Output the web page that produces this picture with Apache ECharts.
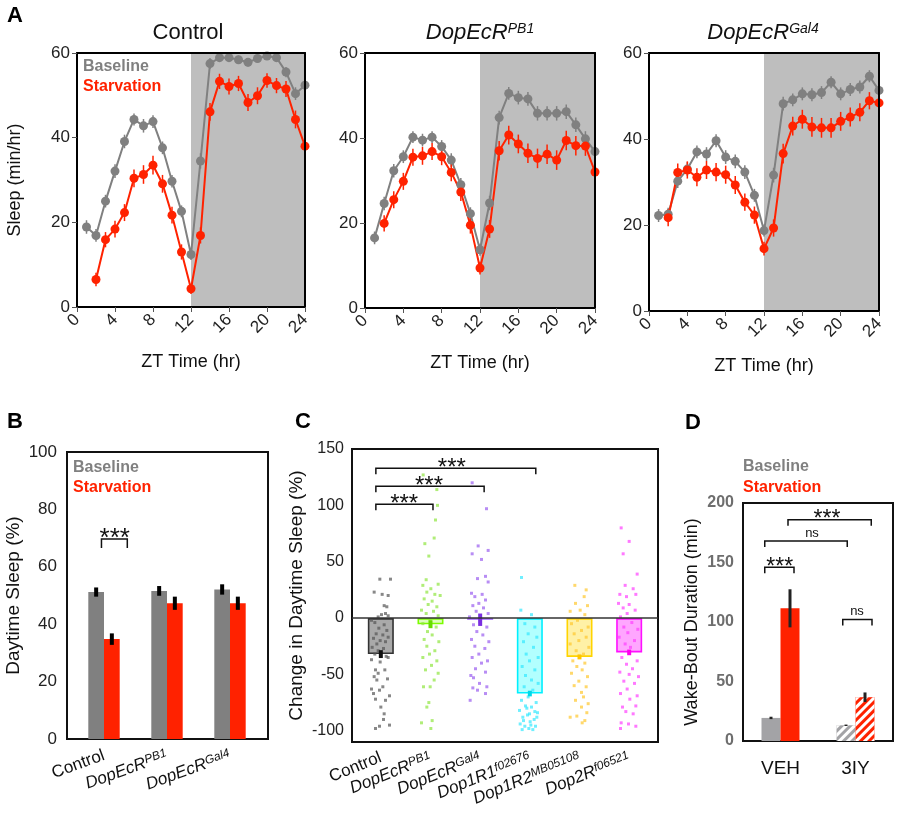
<!DOCTYPE html>
<html><head><meta charset="utf-8">
<script src="https://cdn.jsdelivr.net/npm/echarts@6/dist/echarts.min.js"></script>
<style>html,body{margin:0;padding:0;background:#fff}#c{width:900px;height:821px}</style>
</head><body><div id="c"></div>
<script>
// ---------------- DATA ----------------
const hours = [1,2,3,4,5,6,7,8,9,10,11,12,13,14,15,16,17,18,19,20,21,22,23,24];
const darkPhase = [12, 24];
const ctrlBase  = [18.9,16.9,25.0,32.1,39.1,44.3,42.8,43.8,37.6,29.7,22.6,12.4,34.5,57.5,58.9,58.9,58.4,57.8,58.7,59.3,58.9,55.5,50.4,52.4];
const ctrlStarv = [null,6.5,15.9,18.4,22.3,30.4,31.3,33.5,29.1,21.7,13.0,4.3,16.9,46.1,53.3,52.1,52.8,48.3,49.9,53.5,52.3,51.5,44.3,38.0];
const pb1Base   = [16.5,24.6,32.3,35.6,40.2,39.5,40.2,38.0,34.8,29.0,22.2,13.7,24.7,44.8,50.5,49.5,49.2,45.8,45.8,45.8,46.2,43.1,39.8,36.8];
const pb1Starv  = [null,19.9,25.5,29.8,35.5,35.8,36.8,35.6,31.9,27.3,19.5,9.4,18.6,37.0,40.7,38.6,36.4,35.2,36.2,34.8,39.4,38.2,38.1,32.0];
const gal4Base  = [22.2,22.5,30.2,33.0,37.0,36.5,39.6,35.8,34.8,32.3,26.9,18.7,31.6,48.2,49.1,50.5,50.3,50.8,53.2,50.5,51.5,52.1,54.6,51.3];
const gal4Starv = [null,21.7,32.2,32.8,31.1,32.8,32.3,31.7,29.3,25.3,22.3,14.5,19.3,36.6,43.0,44.6,42.8,42.6,42.6,44.1,45.1,46.2,48.9,48.4];
const ctrlBaseErr  = [1.6,1.5,1.5,1.6,1.6,1.4,1.6,1.5,1.5,1.5,1.4,1.3,1.8,1.3,1.0,1.0,1.0,1.0,1.0,0.9,1.0,1.2,1.5,1.6];
const ctrlStarvErr = [0,1.6,1.8,2.0,2.0,2.1,2.2,2.2,2.1,2.0,1.8,1.2,1.9,2.1,1.8,1.9,1.8,2.0,2.0,1.7,1.8,1.9,2.1,2.3];
const pb1BaseErr   = [1.5,1.6,1.6,1.5,1.4,1.5,1.4,1.5,1.6,1.6,1.5,1.4,1.7,1.6,1.5,1.6,1.6,1.7,1.7,1.7,1.7,1.7,1.8,1.8];
const pb1StarvErr  = [0,1.9,2.0,2.0,2.0,2.1,2.0,2.0,2.1,2.1,2.0,1.5,2.1,2.3,2.2,2.2,2.3,2.3,2.3,2.3,2.3,2.3,2.3,2.4];
const gal4BaseErr  = [1.5,1.5,1.6,1.6,1.5,1.6,1.5,1.6,1.6,1.6,1.5,1.4,1.7,1.6,1.5,1.5,1.5,1.5,1.4,1.5,1.5,1.5,1.4,1.5];
const gal4StarvErr = [0,2.0,2.1,2.0,2.1,2.1,2.1,2.1,2.1,2.0,2.0,1.6,2.0,2.3,2.2,2.2,2.3,2.3,2.3,2.2,2.2,2.1,2.0,2.0];
const aTitles = ['Control', '{i|DopEcR}{s|PB1}', '{i|DopEcR}{s|Gal4}'];

// Panel B
const bCats = ['Control', '{i|DopEcR}{s|PB1}', '{i|DopEcR}{s|Gal4}'];
const bBase = [51.2, 51.6, 52.1];
const bBaseErr = [1.6, 1.7, 1.8];
const bStarv = [34.8, 47.3, 47.3];
const bStarvErr = [2.0, 2.3, 2.3];
const bBrackets = [[-0.04, 0.37, 69.7, 0.17]];
const bBracketText = ['***'];

// Panel C
const cCats = ['Control', '{i|DopEcR}{s|PB1}', '{i|DopEcR}{s|Gal4}', '{i|Dop1R1}{s|f02676}', '{i|Dop1R2}{s|MB05108}', '{i|Dop2R}{s|f06521}'];
const cMeans = [-32, -5.5, -1.5, -67, -34.5, -30.5];
const cErr = [3.5, 3.5, 5.5, 2.5, 2.2, 2.5];
// individual flies: [jitter, change %]
const cCtrlPts = [[-3,34.5],[29,34.5],[-20,23],[4,21],[22,20],[10,11],[18,10],[14,4],[2,3],[-8,1],[22,2],[-28,-2],[-18,-4],[10,-6],[-6,-9],[18,-11],[-14,-14],[6,-15],[22,-17],[-22,-18],[-2,-20],[14,-21],[-12,-23],[-26,-26],[8,-27],[-8,-29],[-18,-32],[16,-34],[-28,-37],[-2,-39],[22,-35],[-16,-46],[12,-46],[-8,-49],[-20,-52],[20,-54],[-12,-55],[6,-61],[-28,-63],[-4,-64],[-22,-67],[26,-69],[-16,-72],[14,-73],[0,-79],[10,-85],[8,-90],[-16,-98],[-4,-96],[26,-95]];
const cPb1Pts = [[-22,127],[19,114],[21,100],[15,87],[11,71],[-17,66],[-5,55],[-13,34],[23,30],[-23,29],[1,26],[-11,23],[13,21],[29,20],[-19,17],[5,15],[-7,12],[19,10],[-27,7],[9,6],[-13,4],[23,2],[-1,-2],[-23,-5],[17,-8],[-9,-12],[5,-15],[-19,-19],[25,-21],[-11,-25],[13,-29],[-3,-32],[-23,-35],[19,-38],[3,-42],[-15,-46],[23,-49],[11,-55],[-1,-61],[-21,-61],[-5,-75],[-11,-79],[5,-91],[-27,-93],[1,-98]];
const cGal4Pts = [[-24,120],[19,97],[-6,64],[24,60],[-24,57],[4,52],[16,37],[-8,35],[24,32],[-26,22],[6,21],[-16,19],[16,16],[-4,13],[-22,11],[10,9],[-12,6],[24,4],[-32,1],[0,-3],[-20,-6],[20,-8],[-10,-12],[8,-15],[-26,-19],[26,-21],[-16,-25],[14,-27],[-4,-32],[-24,-35],[22,-38],[4,-40],[-14,-45],[16,-48],[-28,-51],[-20,-53],[-2,-58],[20,-61],[-22,-62],[-8,-64],[16,-67],[-30,-73]];
const cD1r1Pts = [[-25,36],[-27,7],[5,3],[-15,-5],[15,-8],[-5,-14],[21,-17],[-19,-21],[11,-26],[-11,-32],[25,-35],[-1,-38],[-23,-43],[15,-46],[-13,-51],[5,-55],[25,-58],[-17,-61],[9,-64],[-5,-70],[-25,-73],[19,-75],[-13,-78],[5,-79],[-31,-82],[23,-84],[-7,-86],[-21,-88],[13,-90],[1,-92],[-29,-94],[-15,-96],[17,-96],[-3,-98],[9,-99],[-23,-99],[-9,-80],[15,-83],[-19,-91],[3,-95],[21,-88],[-1,-85]];
const cD1r2Pts = [[-14,29],[20,25],[14,19],[-12,13],[24,11],[2,7],[-28,6],[16,3],[-6,-2],[-24,-5],[26,-8],[6,-11],[-16,-14],[20,-17],[-2,-20],[-28,-23],[28,-26],[-10,-29],[12,-32],[-20,-38],[16,-40],[-8,-43],[8,-46],[-24,-49],[24,-52],[-2,-56],[-16,-60],[20,-61],[6,-66],[12,-70],[-12,-73],[26,-76],[6,-79],[22,-84],[-28,-88],[-8,-87],[16,-91],[8,-93]];
const cD2rPts = [[-24,80],[0,68],[-18,57],[24,39],[-12,29],[12,26],[-28,21],[20,21],[-8,19],[-32,13],[0,12],[-18,9],[18,7],[-6,4],[-26,1],[8,-4],[-16,-8],[26,-10],[-4,-13],[-30,-17],[16,-20],[-12,-23],[4,-26],[-22,-35],[24,-38],[-8,-41],[10,-45],[-28,-48],[0,-50],[28,-52],[-16,-56],[16,-58],[-6,-63],[-26,-67],[24,-69],[2,-72],[-20,-79],[20,-78],[-10,-83],[12,-85],[-24,-93],[-2,-94],[20,-96],[-26,-98]];
const cPoints = [cCtrlPts, cPb1Pts, cGal4Pts, cD1r1Pts, cD1r2Pts, cD2rPts];
const cBrackets = [[-0.1, 1.05, 101, 0.47], [-0.1, 2.08, 117, 0.97], [-0.1, 3.12, 133, 1.43]];
const cBracketText = ['***', '***', '***'];

// Panel D
const dCats = ['VEH', '3IY'];
const dBase = [19.4, 13.2];
const dBaseErr = [1.0, 0.6];
const dStarv = [111.5, 36.8];
const dStarvErr = [16, 4];
const dBrackets = [[-0.21, 0.18, 146, -0.01], [-0.21, 0.89, 168, 0.42], [0.10, 1.21, 186, 0.62], [0.83, 1.22, 102, 1.02]];
const dBracketText = ['***', 'ns', '***', 'ns'];

// ---------------- STYLES ----------------
const FONT = '"Liberation Sans", Arial, Helvetica, sans-serif';
const GRAY = '#808080', RED = '#ff2200';
const cFill = ['#a9a9a9', 'rgba(140,250,40,0.30)', 'rgba(160,110,255,0.25)', 'rgba(0,255,255,0.30)', 'rgba(255,215,0,0.35)', 'rgba(255,0,255,0.35)'];
const cBorder = ['#333333', '#7cfc00', '#9b59ff', '#00f0ff', '#ffd400', '#ff10ff'];
const cDot = ['#555555', '#8ee53f', '#9a5cf0', '#33e8ff', '#ffc82e', '#ff40ff'];
const cErrCol = ['#111111', '#66dd00', '#7a2ee0', '#00d8e8', '#ffc400', '#ff00ee'];
const rich17 = { i: { fontStyle: 'italic', fontSize: 17, fontFamily: FONT, color: '#111' }, s: { fontStyle: 'italic', fontSize: 12, fontFamily: FONT, verticalAlign: 'top', color: '#111' } };

// ---------------- HELPERS ----------------
function pairs(v) { return hours.map((h, i) => v[i] == null ? null : [h, v[i]]).filter(Boolean); }
function triples(v, e) { return hours.map((h, i) => v[i] == null ? null : [h, v[i], e[i]]).filter(Boolean); }
function errRender(offsetPx, width, colorFn) {
  return function (params, api) {
    const x = api.value(0), y = api.value(1), e = api.value(2);
    const p1 = api.coord([x, y + e]), p2 = api.coord([x, y - e]);
    return { type: 'line', shape: { x1: p1[0] + offsetPx, y1: p1[1], x2: p2[0] + offsetPx, y2: p2[1] },
      style: { stroke: colorFn(params.dataIndex), lineWidth: width } };
  };
}
function bracketRender(texts, fontSize, tick) {
  return function (params, api) {
    const a = api.coord([api.value(0), api.value(2)]);
    const b = api.coord([api.value(1), api.value(2)]);
    const l = api.coord([api.value(3), api.value(2)]);
    const t = texts[params.dataIndex];
    const isNs = t === 'ns';
    return { type: 'group', children: [
      { type: 'polyline', shape: { points: [[a[0], a[1] + tick], [a[0], a[1]], [b[0], b[1]], [b[0], b[1] + tick]] },
        style: { stroke: '#111', lineWidth: 1.5, fill: 'none' } },
      { type: 'text', x: l[0], y: l[1] + (isNs ? -8 : 0),
        style: { text: t, fontSize: isNs ? 13 : fontSize, fontFamily: FONT, fill: '#111', align: 'center', verticalAlign: 'middle' } }
    ] };
  };
}

// ---------------- GRIDS / AXES ----------------
const gridBase = { outerBoundsMode: 'none', containLabel: false };
const grids = [
  Object.assign({ left: 77, top: 53, width: 228, height: 254 }, gridBase),
  Object.assign({ left: 365, top: 53, width: 230, height: 255 }, gridBase),
  Object.assign({ left: 649, top: 53, width: 230, height: 258 }, gridBase),
  Object.assign({ left: 67, top: 452, width: 201, height: 287, show: true, borderColor: '#111', borderWidth: 2 }, gridBase),
  Object.assign({ left: 72.5, top: 452, width: 189, height: 287 }, gridBase),
  Object.assign({ left: 352, top: 449, width: 306, height: 293, show: true, borderColor: '#111', borderWidth: 2 }, gridBase),
  Object.assign({ left: 356, top: 449, width: 298, height: 293 }, gridBase),
  Object.assign({ left: 743, top: 503, width: 150, height: 238, show: true, borderColor: '#111', borderWidth: 2 }, gridBase)
];
const xAxes = [], yAxes = [];
for (let p = 0; p < 3; p++) {
  xAxes.push({ gridIndex: p, type: 'value', min: 0, max: 24, interval: 4, z: 5,
    axisLine: { onZero: false, lineStyle: { color: '#000', width: 2 } }, axisTick: { show: true, length: 5, lineStyle: { color: '#555' } },
    axisLabel: { rotate: 45, fontSize: 17, color: '#222', fontFamily: FONT, margin: 10 }, splitLine: { show: false },
    name: 'ZT Time (hr)', nameLocation: 'middle', nameGap: 46, nameTextStyle: { fontSize: 18, color: '#111', fontFamily: FONT } });
  xAxes.push({ gridIndex: p, type: 'value', min: 0, max: 24, position: 'top', z: 5,
    axisLine: { show: true, onZero: false, lineStyle: { color: '#000', width: 2 } }, axisTick: { show: false }, axisLabel: { show: false }, splitLine: { show: false } });
  yAxes.push({ gridIndex: p, type: 'value', min: 0, max: 60, interval: 20, z: 5,
    axisLine: { show: true, onZero: false, lineStyle: { color: '#000', width: 2 } }, axisTick: { show: true, length: 5, lineStyle: { color: '#555' } },
    axisLabel: { fontSize: 17, color: '#222', fontFamily: FONT, margin: 7 }, splitLine: { show: false },
    name: p === 0 ? 'Sleep (min/hr)' : '', nameLocation: 'middle', nameGap: 53, nameTextStyle: { fontSize: 18, color: '#111', fontFamily: FONT } });
  yAxes.push({ gridIndex: p, type: 'value', min: 0, max: 60, position: 'right', z: 5,
    axisLine: { show: true, onZero: false, lineStyle: { color: '#000', width: 2 } }, axisTick: { show: false }, axisLabel: { show: false }, splitLine: { show: false } });
}
// B frame (6) and inner (7)
xAxes.push({ gridIndex: 3, type: 'value', min: -0.587, max: 2.603, show: false });
xAxes.push({ gridIndex: 4, type: 'category', data: bCats, axisLine: { show: false }, axisTick: { show: false },
  axisLabel: { rotate: 20, interval: 0, fontSize: 17, color: '#111', fontFamily: FONT, margin: 16, rich: rich17 } });
yAxes.push({ gridIndex: 3, type: 'value', min: 0, max: 100, interval: 20,
  axisLine: { show: true, onZero: false, lineStyle: { color: '#111', width: 2 } }, axisTick: { show: false },
  axisLabel: { fontSize: 17, color: '#222', fontFamily: FONT, margin: 10 }, splitLine: { show: false },
  name: 'Daytime Sleep (%)', nameLocation: 'middle', nameGap: 44, nameTextStyle: { fontSize: 19, color: '#111', fontFamily: FONT } });
yAxes.push({ gridIndex: 4, type: 'value', min: 0, max: 100, show: false });
// C frame (8), inner cat (9), inner jitter value (10)
xAxes.push({ gridIndex: 5, type: 'value', min: 0, max: 1, show: false });
xAxes.push({ gridIndex: 6, type: 'category', data: cCats, axisLine: { show: false }, axisTick: { show: false },
  axisLabel: { rotate: 22, interval: 0, fontSize: 17, color: '#111', fontFamily: FONT, margin: 15, rich: rich17 } });
xAxes.push({ gridIndex: 6, type: 'value', min: -0.5, max: 5.5, show: false });
yAxes.push({ gridIndex: 5, type: 'value', min: -110, max: 150, interval: 10,
  axisLine: { show: true, onZero: false, lineStyle: { color: '#111', width: 2 } }, axisTick: { show: false },
  axisLabel: { fontSize: 16, color: '#222', fontFamily: FONT, margin: 8, formatter: v => (v % 50 === 0 ? String(v) : '') }, splitLine: { show: false },
  name: 'Change in Daytime Sleep (%)', nameLocation: 'middle', nameGap: 46, nameTextStyle: { fontSize: 19, color: '#111', fontFamily: FONT } });
yAxes.push({ gridIndex: 6, type: 'value', min: -110, max: 150, show: false });
// D cat (11), value (12)
xAxes.push({ gridIndex: 7, type: 'category', data: dCats, axisLine: { show: false }, axisTick: { show: false },
  axisLabel: { fontSize: 19, color: '#111', fontFamily: FONT, margin: 18 } });
xAxes.push({ gridIndex: 7, type: 'value', min: -0.5, max: 1.5, show: false });
yAxes.push({ gridIndex: 7, type: 'value', min: 0, max: 200, interval: 50,
  axisLine: { show: true, onZero: false, lineStyle: { color: '#111', width: 2 } }, axisTick: { show: false },
  axisLabel: { fontSize: 16, fontWeight: 'bold', color: '#6e6e6e', fontFamily: FONT, margin: 9 }, splitLine: { show: false },
  name: 'Wake-Bout Duration (min)', nameLocation: 'middle', nameGap: 42, nameTextStyle: { fontSize: 18, color: '#111', fontFamily: FONT } });

// ---------------- SERIES ----------------
const series = [];
const panelA = [
  [ctrlBase, ctrlBaseErr, ctrlStarv, ctrlStarvErr],
  [pb1Base, pb1BaseErr, pb1Starv, pb1StarvErr],
  [gal4Base, gal4BaseErr, gal4Starv, gal4StarvErr]
];
panelA.forEach((d, p) => {
  const xi = 2 * p, yi = 2 * p;
  series.push({ type: 'custom', xAxisIndex: xi, yAxisIndex: yi, z: 1, silent: true, data: [darkPhase],
    renderItem: function (params, api) {
      const a = api.coord([api.value(0), 60]), b = api.coord([api.value(1), 0]);
      return { type: 'rect', shape: { x: a[0], y: a[1], width: b[0] - a[0], height: b[1] - a[1] }, style: { fill: '#bebebe' } };
    } });
  [[d[0], d[1], GRAY], [d[2], d[3], RED]].forEach(s => {
    series.push({ type: 'custom', xAxisIndex: xi, yAxisIndex: yi, z: 3, silent: true, data: triples(s[0], s[1]),
      renderItem: errRender(0, 1.5, () => s[2]), clip: true });
    series.push({ type: 'line', xAxisIndex: xi, yAxisIndex: yi, z: 4, data: pairs(s[0]), symbol: 'circle', symbolSize: 9,
      lineStyle: { color: s[2], width: 2 }, itemStyle: { color: s[2] }, clip: true, animation: false });
  });
});
// B bars
series.push({ type: 'bar', xAxisIndex: 7, yAxisIndex: 7, data: bBase, barWidth: 15.7, barGap: '0%', itemStyle: { color: GRAY }, z: 2 });
series.push({ type: 'bar', xAxisIndex: 7, yAxisIndex: 7, data: bStarv, barWidth: 15.7, barGap: '0%', itemStyle: { color: RED }, z: 2 });
series.push({ type: 'custom', xAxisIndex: 7, yAxisIndex: 7, z: 3, data: bBase.map((v, i) => [i, v, bBaseErr[i]]), renderItem: errRender(-7.85, 4, () => '#000') });
series.push({ type: 'custom', xAxisIndex: 7, yAxisIndex: 7, z: 3, data: bStarv.map((v, i) => [i, v, bStarvErr[i]]), renderItem: errRender(7.85, 4, () => '#000') });
series.push({ type: 'custom', xAxisIndex: 6, yAxisIndex: 6, z: 5, data: bBrackets, renderItem: bracketRender(bBracketText, 26, 9) });
// C
series.push({ type: 'line', xAxisIndex: 8, yAxisIndex: 8, z: 6, data: [[0, 0], [1, 0]], symbol: 'none', lineStyle: { color: '#333', width: 1.5 }, silent: true });
series.push({ type: 'bar', xAxisIndex: 9, yAxisIndex: 9, z: 2, barWidth: 26,
  data: cMeans.map((v, i) => ({ value: v, itemStyle: { color: cFill[i], borderColor: cBorder[i], borderWidth: 1.6 } })) });
cPoints.forEach((pts, g) => {
  series.push({ type: 'scatter', xAxisIndex: 10, yAxisIndex: 9, z: 3, symbol: 'rect', symbolSize: 3,
    itemStyle: { color: cDot[g], opacity: 0.7 }, data: pts.map(p => [g + p[0] / 149, p[1]]), silent: true });
});
series.push({ type: 'custom', xAxisIndex: 9, yAxisIndex: 9, z: 4, data: cMeans.map((v, i) => [i, v, cErr[i]]), renderItem: errRender(0, 4, i => cErrCol[i]) });
series.push({ type: 'custom', xAxisIndex: 10, yAxisIndex: 9, z: 5, data: cBrackets, renderItem: bracketRender(cBracketText, 24, 6) });
// D
const hatch = { symbol: 'rect', symbolSize: 1, color: '#ffffff', dashArrayX: [1, 0], dashArrayY: [3, 3], rotation: -Math.PI / 4 };
series.push({ type: 'bar', xAxisIndex: 11, yAxisIndex: 10, barWidth: 19, barGap: '0%', z: 2,
  data: dBase.map((v, i) => ({ value: v, itemStyle: { color: '#a3a3a6', decal: i === 1 ? hatch : null } })) });
series.push({ type: 'bar', xAxisIndex: 11, yAxisIndex: 10, barWidth: 19, barGap: '0%', z: 2,
  data: dStarv.map((v, i) => ({ value: v, itemStyle: { color: RED, decal: i === 1 ? hatch : null } })) });
series.push({ type: 'custom', xAxisIndex: 11, yAxisIndex: 10, z: 3, data: dBase.map((v, i) => [i, v, dBaseErr[i]]), renderItem: errRender(-9.5, 3, () => '#222') });
series.push({ type: 'custom', xAxisIndex: 11, yAxisIndex: 10, z: 3, data: dStarv.map((v, i) => [i, v, dStarvErr[i]]), renderItem: errRender(9.5, 3, () => '#222') });
series.push({ type: 'custom', xAxisIndex: 12, yAxisIndex: 10, z: 5, data: dBrackets, renderItem: bracketRender(dBracketText, 23, 6) });

// ---------------- TEXT (titles, legends, letters) ----------------
const titleRich = { i: { fontStyle: 'italic', fontSize: 22, fontFamily: FONT, fill: '#111' }, s: { fontStyle: 'italic', fontSize: 14, fontFamily: FONT, verticalAlign: 'top', fill: '#111' } };
const titleX = [188, 480, 763];
const graphic = [];
aTitles.forEach((t, i) => graphic.push({ type: 'text', x: titleX[i], y: 33,
  style: { text: t, fontSize: 22, fontFamily: FONT, fill: '#111', align: 'center', verticalAlign: 'middle', rich: titleRich } }));
function label(x, y, t, color, size, weight) {
  graphic.push({ type: 'text', x: x, y: y, style: { text: t, fontSize: size, fontWeight: weight || 'bold', fontFamily: FONT, fill: color, align: 'left', verticalAlign: 'middle' } });
}
label(7, 16, 'A', '#000', 22);
label(7, 422, 'B', '#000', 22);
label(295, 422, 'C', '#000', 22);
label(685, 423, 'D', '#000', 22);
label(83, 67, 'Baseline', GRAY, 16);
label(83, 87, 'Starvation', RED, 16);
label(73, 468, 'Baseline', GRAY, 16);
label(73, 488, 'Starvation', RED, 16);
label(743, 467, 'Baseline', GRAY, 16);
label(743, 488, 'Starvation', RED, 16);

const chart = echarts.init(document.getElementById('c'), null, { renderer: 'canvas' });
chart.setOption({ animation: false, backgroundColor: '#fff', textStyle: { fontFamily: FONT },
  grid: grids, xAxis: xAxes, yAxis: yAxes, series: series, graphic: graphic });
</script></body></html>
